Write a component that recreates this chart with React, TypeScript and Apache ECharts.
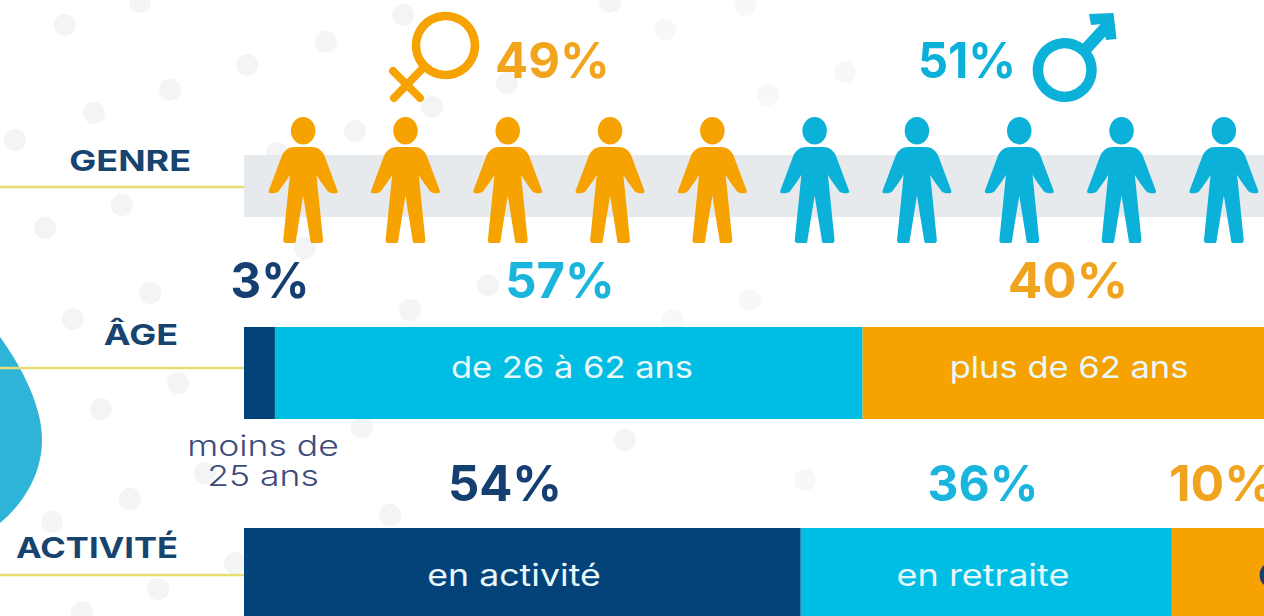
import React, { useEffect, useRef } from "react";
import * as echarts from "echarts";

const FONT = "Inter";
const NAVY = "#03437a";
const CYAN = "#00bde3";
const ORANGE = "#f6a200";
const PERSON_BLUE = "#0cb1d9";

const rowTitles = ["GENRE", "ÂGE", "ACTIVITÉ"];
const genderShares = [49, 51];
const people = ["f", "f", "f", "f", "f", "m", "m", "m", "m", "m"];
const ageNames = ["moins de 25 ans", "de 26 à 62 ans", "plus de 62 ans"];
const ageValues = [3, 57, 40];
const activityNames = ["en activité", "en retraite", "C"];
const activityValues = [54, 36, 10];

const PERSON =
  "path://M67 41A37 41 0 1 1 141 41A37 41 0 1 1 67 41Z" +
  "M78 90L130 90C148 90 160 100 168 115L206 216C210 224 208 228 202 228C192 229 184 227 178 222C168 208 154 192 144 173L164 368C164 374 162 377 157 377L132 377C128 377 126 375 126 371L104 235L82 371C82 375 80 377 76 377L51 377C46 377 44 374 44 368L64 173C54 192 40 208 30 222C24 227 16 229 6 228C0 228 -2 224 2 216L40 115C48 100 60 90 78 90Z";

const dots = [
  [65, 25], [140, 2], [15, 140], [94, 113], [170, 90], [247, 65], [326, 42], [355, 131], [403, 15],
  [432, 107], [277, 153], [305, 248], [507, 83], [45, 228], [122, 205], [150, 293], [73, 319],
  [178, 383], [101, 409], [130, 499], [52, 522], [158, 589], [82, 612], [235, 563], [362, 427],
  [390, 515], [205, 473], [410, 310], [488, 285], [673, 320], [750, 300], [625, 440], [805, 480],
  [665, 30], [745, 5], [768, 95], [845, 72], [610, 2],
];

echarts.graphic.registerShape(
  "drop",
  echarts.graphic.extendPath("M0 337C14 356 42 400 42 440C42 475 22 505 0 523Z", {}),
);

const txt = (
  text: string, x: number, y: number, fontSize: number, fill: string,
  align: string, fontWeight: number = 700, scaleX: number = 1,
) => ({
  type: "text", x, y, z: 20, scaleX,
  style: { text, fontSize, fill, align, verticalAlign: "middle", fontFamily: FONT, fontWeight },
});

const seg = (name: string, value: number, color: string, idx: number) => ({
  type: "bar", name, stack: "s" + idx, xAxisIndex: idx, yAxisIndex: idx, barWidth: "100%", z: 3,
  data: [value],
  itemStyle: { color },
});

export default function App() {
  const ref = useRef<HTMLDivElement>(null);
  useEffect(() => {
    const chart = echarts.init(ref.current!, null, { renderer: "svg" });
    const grids = [
      { left: 244, top: 155, width: 1100, height: 62, outerBoundsMode: "none" },
      { left: 244, top: 327, width: 1031, height: 92, outerBoundsMode: "none" },
      { left: 244, top: 528, width: 1031, height: 92, outerBoundsMode: "none" },
      { left: 252, top: 117, width: 1023, height: 126, outerBoundsMode: "none" },
    ];
    const xAxis: any[] = [0, 1, 2].map((i) => ({
      type: "value", gridIndex: i, min: 0, max: 100, show: false,
    }));
    xAxis.push({ type: "category", gridIndex: 3, show: false, data: people.map((_, i) => String(i + 1)) });
    const yAxis: any[] = [0, 1, 2].map((i) => ({
      type: "category", gridIndex: i, show: false, data: [rowTitles[i]],
    }));
    yAxis.push({ type: "value", gridIndex: 3, show: false, min: -1, max: 1 });

    const LABEL = "#e8f8fb";
    const RULE = { stroke: "#e8dd72", lineWidth: 2.5 };
    chart.setOption({
      animation: false,
      backgroundColor: "#ffffff",
      grid: grids,
      xAxis,
      yAxis,
      series: [
        { type: "bar", name: "bande", xAxisIndex: 0, yAxisIndex: 0, barWidth: "100%", z: 1, data: [100], itemStyle: { color: "#e7eaed" } },
        seg(ageNames[0], ageValues[0], NAVY, 1),
        seg(ageNames[1], ageValues[1], CYAN, 1),
        seg(ageNames[2], ageValues[2], ORANGE, 1),
        seg(activityNames[0], activityValues[0], NAVY, 2),
        seg(activityNames[1], activityValues[1], CYAN, 2),
        seg(activityNames[2], activityValues[2], ORANGE, 2),
        {
          type: "scatter", name: "personnes", xAxisIndex: 3, yAxisIndex: 3, z: 5, clip: false,
          symbol: PERSON, symbolSize: [69, 126],
          data: people.map((g, i) => ({
            value: [String(i + 1), 0],
            itemStyle: { color: g === "f" ? ORANGE : PERSON_BLUE, opacity: 1 },
          })),
        },
      ],
      graphic: {
        elements: [
          ...dots.map(([x, y]) => ({
            type: "circle", z: -10, shape: { cx: x, cy: y, r: 11 },
            style: { fill: x > 640 ? "#f7f8f9" : "#f2f4f5" },
          })),
          { type: "drop", z: 1, style: { fill: "#2fb4d8" } },
          { type: "line", z: 2, shape: { x1: 0, y1: 187, x2: 244, y2: 187 }, style: RULE },
          { type: "line", z: 2, shape: { x1: 0, y1: 368, x2: 245, y2: 368 }, style: RULE },
          { type: "line", z: 2, shape: { x1: 0, y1: 575, x2: 248, y2: 575 }, style: RULE },

          { type: "circle", z: 10, shape: { cx: 445.5, cy: 45.4, r: 29.5 }, style: { fill: "none", stroke: ORANGE, lineWidth: 8.5 } },
          { type: "line", z: 10, shape: { x1: 424, y1: 67, x2: 394, y2: 98 }, style: { stroke: ORANGE, lineWidth: 8, lineCap: "round" } },
          { type: "line", z: 10, shape: { x1: 393, y1: 71, x2: 420, y2: 98 }, style: { stroke: ORANGE, lineWidth: 8, lineCap: "round" } },
          { type: "circle", z: 10, shape: { cx: 1064.7, cy: 70, r: 26.8 }, style: { fill: "none", stroke: PERSON_BLUE, lineWidth: 10.5 } },
          { type: "line", z: 10, shape: { x1: 1084, y1: 51, x2: 1106, y2: 27 }, style: { stroke: PERSON_BLUE, lineWidth: 12 } },
          { type: "polygon", z: 10, shape: { points: [[1089, 14], [1113.5, 13], [1116.5, 39], [1106, 40], [1103, 24], [1091, 25]] }, style: { fill: PERSON_BLUE } },

          txt(genderShares[0] + "%", 495, 60, 50, "#f2a51c", "left", 700, 0.98),
          txt(genderShares[1] + "%", 1016, 60, 50, PERSON_BLUE, "right", 700, 0.94),
          txt(rowTitles[0], 191, 160, 29, "#17436f", "right", 700, 1.24),
          txt(rowTitles[1], 178, 334, 29, "#17436f", "right", 700, 1.24),
          txt(rowTitles[2], 178, 548, 29, "#17436f", "right", 700, 1.19),
          txt(ageValues[0] + "%", 270, 280, 50, "#143f70", "center", 700, 0.95),
          txt(ageValues[1] + "%", 560, 280, 50, "#19b5dc", "center", 700, 0.98),
          txt(ageValues[2] + "%", 1068, 280, 50, "#f0a41e", "center", 700, 1.02),
          txt(activityValues[0] + "%", 505, 483, 50, "#143f70", "center", 700, 0.98),
          txt(activityValues[1] + "%", 983, 483, 50, "#19b5dc", "center", 700, 0.96),
          txt(activityValues[2] + "%", 1169, 483, 50, "#f0a41e", "left"),
          txt("moins de", 263, 446, 28, "#3e4c7c", "center", 300, 1.27),
          txt("25 ans", 263, 476, 28, "#3e4c7c", "center", 300, 1.27),
          txt(ageNames[1], 572, 367, 30, LABEL, "center", 400, 1.15),
          txt(ageNames[2], 1069, 367, 30, LABEL, "center", 400, 1.15),
          txt(activityNames[0], 514, 575, 30, LABEL, "center", 400, 1.19),
          txt(activityNames[1], 983, 575, 30, LABEL, "center", 400, 1.2),
          txt(activityNames[2], 1258, 575, 33, "#123f6d", "left", 700),
        ],
      },
    });
    return () => chart.dispose();
  }, []);
  return <div ref={ref} style={{ position: "absolute", left: 0, top: 0, width: 1264, height: 616 }} />;
}
